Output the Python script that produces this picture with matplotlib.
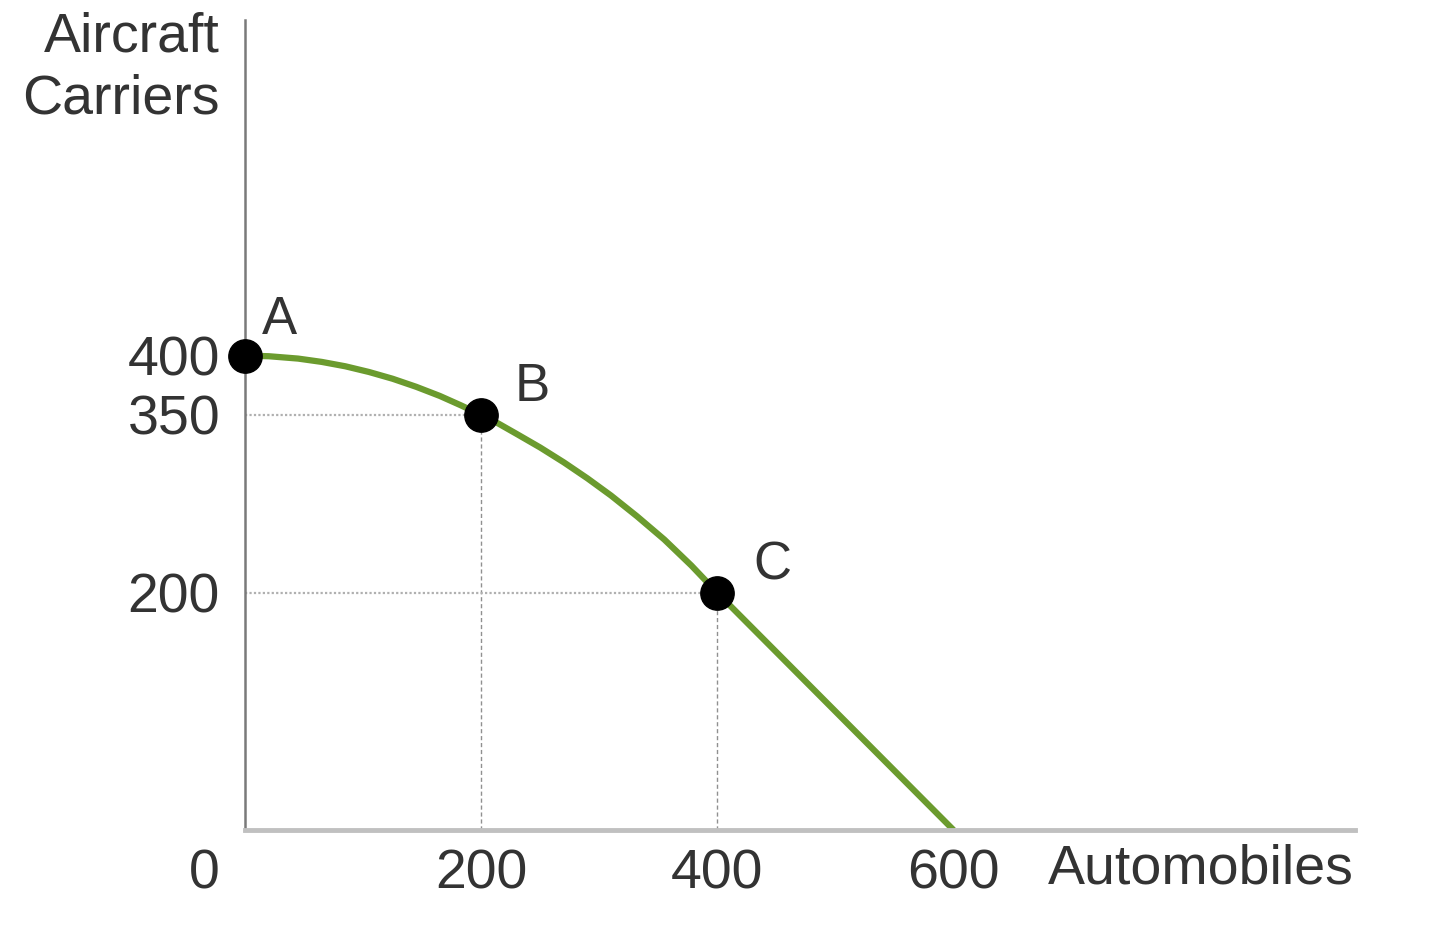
import numpy as np
import matplotlib.pyplot as plt

# points
autos = [0, 20, 45, 65, 85, 105, 125, 145, 165, 183, 200, 215, 230, 250,
         270, 290, 310, 332, 355, 378, 400, 450, 500, 550, 600]
carriers = [400, 399.5, 397.5, 394.7, 391, 386.2, 380.5, 373.7, 366, 358, 350,
            342.5, 334, 322.5, 310, 296.5, 282, 264.5, 245, 223, 200, 150, 100, 50, 0]

point_names = ['A', 'B', 'C']
point_x = [0, 200, 400]
point_y = [400, 350, 200]

x_ticks = [200, 400, 600]
y_ticks = [400, 350, 200]

plt.rcParams['font.family'] = ['Liberation Sans', 'DejaVu Sans']
text_color = '#333333'

fig = plt.figure(figsize=(14.4, 9.35), dpi=100)
ax = fig.add_axes([245 / 1440, 105 / 935, 1110 / 1440, 810 / 935])
ax.set_xlim(0, 940)
ax.set_ylim(0, 683)

for side in ['top', 'right']:
    ax.spines[side].set_visible(False)
ax.spines['left'].set_color('#7a7a7a')
ax.spines['left'].set_linewidth(1.8)
ax.spines['bottom'].set_color('#c0c0c0')
ax.spines['bottom'].set_linewidth(3.5)

# guide lines to B and C
for px, py in zip(point_x[1:], point_y[1:]):
    ax.plot([0, px], [py, py], color='#b0b0b0', lw=1.6, ls=(0, (1, 1)), zorder=1)
    ax.plot([px, px], [0, py], color='#909090', lw=1.0, ls=(0, (3, 2)), zorder=1)

ax.plot(autos, carriers, color='#6b9b2e', lw=4.5, solid_capstyle='butt',
        solid_joinstyle='round', zorder=2, clip_on=False)
ax.plot(point_x, point_y, 'o', color='black', ms=24, zorder=3, clip_on=False)

offsets = [(12, 8), (24, 2), (26, 2)]
for name, px, py, off in zip(point_names, point_x, point_y, offsets):
    ax.annotate(name, (px, py), xytext=off, textcoords='offset points',
                fontsize=38, color=text_color, ha='left', va='bottom')

ax.set_xticks(x_ticks)
ax.set_xticklabels([str(v) for v in x_ticks])
ax.set_yticks(y_ticks)
ax.set_yticklabels([str(v) for v in y_ticks])
ax.tick_params(length=0, labelsize=40, labelcolor=text_color)
ax.tick_params(axis='x', pad=13)
ax.tick_params(axis='y', pad=18)

ax.annotate('0', (0, 0), xytext=(-29, -13), textcoords='offset points',
            fontsize=40, color=text_color, ha='center', va='top')
fig.text(1048 / 1440, 1 - 870 / 935, 'Automobiles', fontsize=40, color=text_color,
         ha='left', va='center')
fig.text(220 / 1440, 1 - 12 / 935, 'Aircraft\nCarriers', fontsize=40, color=text_color,
         ha='right', va='top', multialignment='right', linespacing=1.25)

fig.savefig('out.png', dpi=100)
